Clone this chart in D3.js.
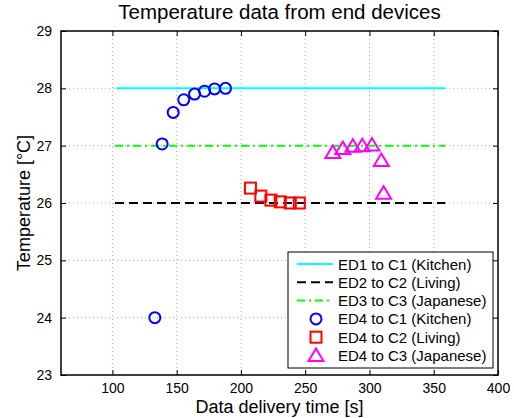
<!DOCTYPE html>
<html><head><meta charset="utf-8">
<script src="https://cdn.jsdelivr.net/npm/d3@7"></script>
<style>body{margin:0;background:#fff}svg{display:block}text{font-family:"Liberation Sans",Arial,sans-serif}</style>
</head><body><div id="chart"></div>
<script>
const xTicks = [100,150,200,250,300,350,400];
const yTicks = [23,24,25,26,27,28,29];
const lineSeries = [
  {name:"ED1 to C1 (Kitchen)", x:[103,359], y:28, color:"#00ffff", dash:null},
  {name:"ED2 to C2 (Living)", x:[102,359], y:26, color:"#000000", dash:"9,5"},
  {name:"ED3 to C3 (Japanese)", x:[102,359], y:27, color:"#00ff00", dash:"8,4,2,4"}
];
const circX = [133,138.7,147.3,155.5,163.9,171.7,179.5,188];
const circY = [24.0,27.03,27.58,27.8,27.9,27.95,27.99,28.0];
const sqX = [207.4,215.5,223.3,230.6,238.4,245.4];
const sqY = [26.26,26.12,26.05,26.02,26.0,26.0];
const triX = [271.5,279.3,287.1,294.4,301.9,309.2,311];
const triY = [26.88,26.95,26.99,27.0,27.01,26.74,26.17];
const markerSeries = [
  {name:"ED4 to C1 (Kitchen)", xs:circX, ys:circY, color:"#0000ff", shape:"circle"},
  {name:"ED4 to C2 (Living)", xs:sqX, ys:sqY, color:"#ff0000", shape:"square"},
  {name:"ED4 to C3 (Japanese)", xs:triX, ys:triY, color:"#ff00ff", shape:"triangle"}
];

const W=514,H=418;
const m={l:61,r:16,t:31,b:43};
const svg=d3.select("#chart").append("svg").attr("width",W).attr("height",H);
const x=d3.scaleLinear().domain([60,400]).range([m.l,W-m.r]);
const y=d3.scaleLinear().domain([23,29]).range([H-m.b,m.t]);
const x0=m.l,x1=W-m.r,y0=H-m.b,y1=m.t;

// grid
const g=svg.append("g");
xTicks.filter(t=>t<400).forEach(t=>g.append("line").attr("x1",x(t)).attr("x2",x(t)).attr("y1",y1).attr("y2",y0)
  .attr("stroke","#aaa").attr("stroke-width",1).attr("stroke-dasharray","1,3"));
yTicks.filter(t=>t>23&&t<29).forEach(t=>g.append("line").attr("x1",x0).attr("x2",x1).attr("y1",y(t)).attr("y2",y(t))
  .attr("stroke","#aaa").attr("stroke-width",1).attr("stroke-dasharray","1,3"));

// axes with inward ticks
const ax=svg.append("g");
ax.append("g").attr("transform",`translate(0,${y0})`).call(d3.axisBottom(x).tickValues(xTicks).tickSize(-5).tickPadding(8).tickFormat(d3.format("d")))
  .call(s=>{s.select(".domain").remove();s.selectAll("text").attr("font-size",14).attr("fill","#000");});
ax.append("g").attr("transform",`translate(0,${y1})`).call(d3.axisTop(x).tickValues(xTicks).tickSize(-5).tickFormat(""))
  .call(s=>s.select(".domain").remove());
ax.append("g").attr("transform",`translate(${x0},0)`).call(d3.axisLeft(y).tickValues(yTicks).tickSize(-5).tickPadding(9).tickFormat(d3.format("d")))
  .call(s=>{s.select(".domain").remove();s.selectAll("text").attr("font-size",14).attr("fill","#000");});
ax.append("g").attr("transform",`translate(${x1},0)`).call(d3.axisRight(y).tickValues(yTicks).tickSize(-5).tickFormat(""))
  .call(s=>s.select(".domain").remove());
svg.append("rect").attr("x",x0).attr("y",y1).attr("width",x1-x0).attr("height",y0-y1).attr("fill","none").attr("stroke","#000").attr("stroke-width",1.5);

// lines
lineSeries.forEach(s=>{
  svg.append("line").attr("x1",x(s.x[0])).attr("x2",x(s.x[1])).attr("y1",y(s.y)).attr("y2",y(s.y))
    .attr("stroke",s.color).attr("stroke-width",2).attr("stroke-dasharray",s.dash);
});

function drawMarker(sel,shape,cx,cy,color){
  if(shape==="circle") sel.append("circle").attr("cx",cx).attr("cy",cy).attr("r",5.5).attr("fill","none").attr("stroke",color).attr("stroke-width",2);
  else if(shape==="square") sel.append("rect").attr("x",cx-5.5).attr("y",cy-5.5).attr("width",11).attr("height",11).attr("fill","none").attr("stroke",color).attr("stroke-width",2);
  else sel.append("path").attr("d",`M${cx},${cy-7}L${cx+7.5},${cy+5.5}L${cx-7.5},${cy+5.5}Z`).attr("fill","none").attr("stroke",color).attr("stroke-width",2).attr("stroke-linejoin","miter");
}
markerSeries.forEach(s=>{
  const gg=svg.append("g");
  s.xs.forEach((v,i)=>drawMarker(gg,s.shape,x(v),y(s.ys[i]),s.color));
});

// title & labels
svg.append("text").attr("x",(x0+x1)/2).attr("y",19).attr("text-anchor","middle").attr("font-size",20.5).text("Temperature data from end devices");
svg.append("text").attr("x",(x0+x1)/2).attr("y",413).attr("text-anchor","middle").attr("font-size",18).text("Data delivery time [s]");
svg.append("text").attr("transform",`translate(30,${(y0+y1)/2}) rotate(-90)`).attr("text-anchor","middle").attr("font-size",18).text("Temperature [\u00b0C]");

// legend
const lg=svg.append("g");
lg.append("rect").attr("x",288).attr("y",252).attr("width",205).attr("height",116).attr("fill","#fff").attr("stroke","#000").attr("stroke-width",1);
const all=[...lineSeries.map(s=>({...s,kind:"line"})),...markerSeries.map(s=>({...s,kind:"marker"}))];
all.forEach((s,i)=>{
  const ly=264+i*18.3;
  if(s.kind==="line") lg.append("line").attr("x1",297).attr("x2",333).attr("y1",ly).attr("y2",ly).attr("stroke",s.color).attr("stroke-width",2).attr("stroke-dasharray",s.dash);
  else drawMarker(lg,s.shape,316,ly,s.color);
  lg.append("text").attr("x",338).attr("y",ly+5.5).attr("font-size",15).text(s.name);
});
</script></body></html>
